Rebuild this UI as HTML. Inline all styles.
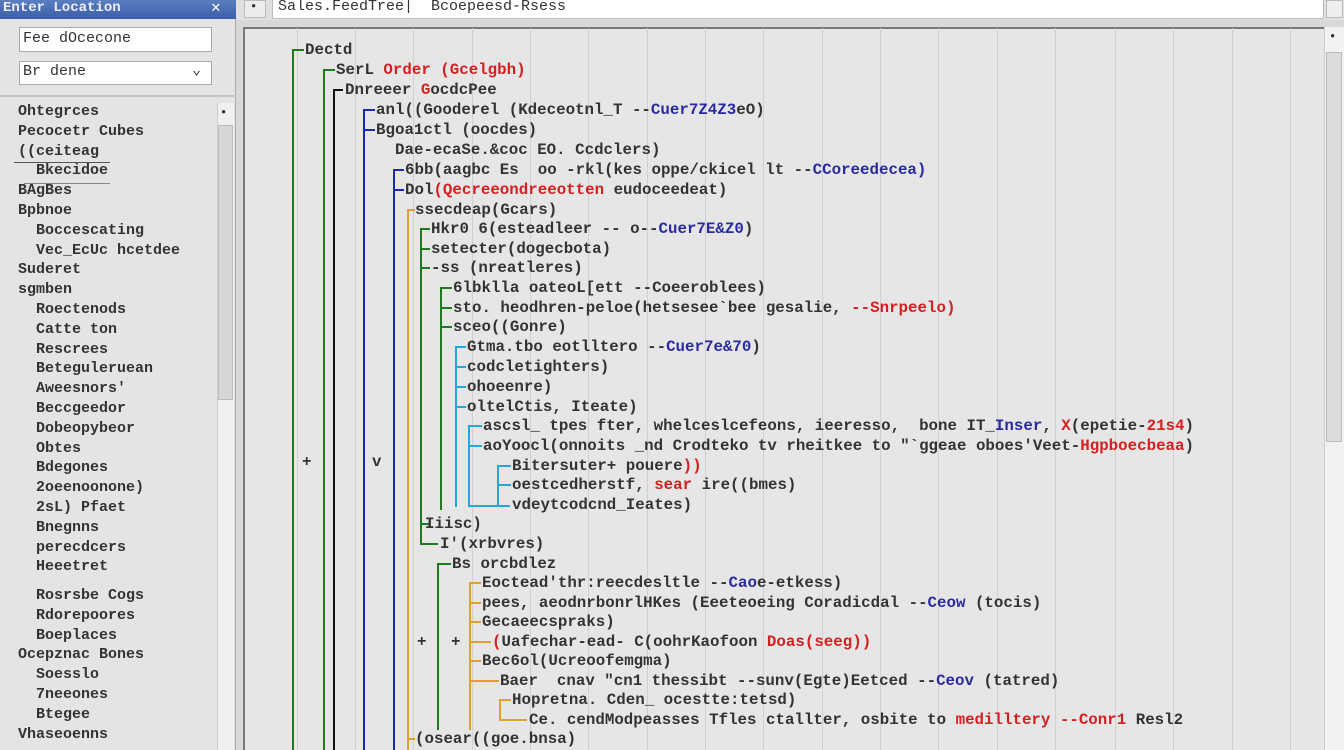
<!DOCTYPE html>
<html><head><meta charset="utf-8"><style>
*{margin:0;padding:0;box-sizing:border-box}
body{width:1344px;height:750px;overflow:hidden;background:#d8d8d8;position:relative;font-family:"Liberation Mono",monospace}
.a{position:absolute}
.t{position:absolute;font:bold 15.8px/18px "Liberation Mono",monospace;color:#333;white-space:pre}
.l{position:absolute;font:bold 15px/19.8px "Liberation Mono",monospace;color:#333;white-space:pre}
.r{color:#d42020}.b{color:#2a2aa0}
.v{position:absolute;width:2px}
.h{position:absolute;height:2px}
.g{background:#1f7a1f}.k{background:#111}.u{background:#1a2ab0}.o{background:#e0a030}.c{background:#20a8d8}
.gl{position:absolute;top:28px;height:722px;width:1px;background:#d0d0d0}
</style></head><body>
<!-- left panel -->
<div class="a" style="left:0;top:0;width:236px;height:750px;background:#e4e4e4;border-right:1px solid #aaa"></div>
<div class="a" style="left:0;top:0;width:236px;height:19px;background:linear-gradient(#5a7fc0,#3a5ea8)"></div>
<div class="l" style="left:3px;top:-1px;color:#eef;font-size:14px">Enter Location</div>
<div class="l" style="left:211px;top:-1px;color:#fff;font-size:16px">✕</div>
<div class="a" style="left:19px;top:27px;width:193px;height:25px;background:#fff;border:1px solid #aaa"></div>
<div class="l" style="left:23px;top:29px;font-weight:normal">Fee dOcecone</div>
<div class="a" style="left:19px;top:61px;width:193px;height:24px;background:#fff;border:1px solid #aaa"></div>
<div class="l" style="left:23px;top:62px;font-weight:normal">Br dene</div>
<div class="l" style="left:192px;top:61px;font-weight:normal">⌄</div>
<div class="a" style="left:0;top:95px;width:236px;height:2px;background:#c4c4c4"></div>
<div class="a" style="left:217px;top:103px;width:17px;height:647px;background:#f0f0f0;border-left:1px solid #ccc"></div>
<div class="a" style="left:218px;top:125px;width:15px;height:275px;background:#d6d6d6;border:1px solid #bbb"></div>
<div class="l" style="left:220px;top:104px;font-size:12px">•</div>
<div class="l" style="left:18px;top:102px">Ohtegrces
Pecocetr Cubes
((ceiteag
  Bkecidoe
BAgBes
Bpbnoe
  Boccescating
  Vec_EcUc hcetdee
Suderet
sgmben
  Roectenods
  Catte ton
  Rescrees
  Beteguleruean
  Aweesnors'
  Beccgeedor
  Dobeopybeor
  Obtes
  Bdegones
  2oeenoonone)
  2sL) Pfaet
  Bnegnns
  perecdcers
  Heeetret</div>
<div class="l" style="left:18px;top:586px">  Rosrsbe Cogs
  Rdorepoores
  Boeplaces
Ocepznac Bones
  Soesslo
  7neeones
  Btegee
Vhaseoenns</div>
<div class="a" style="left:14px;top:162px;width:96px;height:1px;background:#555"></div>
<div class="a" style="left:24px;top:183px;width:86px;height:1px;background:#888"></div>
<!-- top toolbar -->
<div class="a" style="left:236px;top:0;width:1108px;height:20px;background:#e0e0e0"></div>
<div class="a" style="left:244px;top:0;width:22px;height:18px;background:#ececec;border:1px solid #bbb"></div>
<div class="l" style="left:250px;top:-2px;font-size:12px">•</div>
<div class="a" style="left:272px;top:-1px;width:1052px;height:20px;background:#fff;border:1px solid #bbb"></div>
<div class="l" style="left:278px;top:-3px;font-weight:normal">Sales.FeedTree|  Bcoepeesd-Rsess</div>
<div class="a" style="left:1326px;top:0;width:17px;height:18px;background:#eee;border:1px solid #bbb"></div>
<!-- main panel -->
<div class="a" style="left:243px;top:27px;width:1082px;height:723px;background:#e6e6e6;border-top:2px solid #777;border-left:2px solid #777"></div>
<div class="gl" style="left:297px"></div><div class="gl" style="left:355px"></div><div class="gl" style="left:413px"></div><div class="gl" style="left:472px"></div><div class="gl" style="left:530px"></div><div class="gl" style="left:588px"></div><div class="gl" style="left:647px"></div><div class="gl" style="left:705px"></div><div class="gl" style="left:763px"></div><div class="gl" style="left:822px"></div><div class="gl" style="left:880px"></div><div class="gl" style="left:938px"></div><div class="gl" style="left:997px"></div><div class="gl" style="left:1055px"></div><div class="gl" style="left:1115px"></div><div class="gl" style="left:1173px"></div><div class="gl" style="left:1232px"></div><div class="gl" style="left:1290px"></div>
<!-- right scrollbar -->
<div class="a" style="left:1324px;top:27px;width:20px;height:723px;background:#f2f2f2;border-left:1px solid #ccc"></div>
<div class="a" style="left:1326px;top:52px;width:16px;height:390px;background:#dcdcdc;border:1px solid #bbb"></div>
<div class="l" style="left:1329px;top:28px;font-size:12px">•</div>
<!-- tree lines -->
<div class="v g" style="left:292px;top:50px;height:700px"></div><div class="h g" style="left:292px;top:49px;width:12px"></div>
<div class="v g" style="left:323px;top:70px;height:680px"></div><div class="h g" style="left:323px;top:69px;width:12px"></div>
<div class="v k" style="left:333px;top:90px;height:660px"></div><div class="h k" style="left:333px;top:89px;width:10px"></div>
<div class="v u" style="left:363px;top:110px;height:640px"></div><div class="h u" style="left:363px;top:109px;width:12px"></div><div class="h u" style="left:363px;top:129px;width:12px"></div>
<div class="v u" style="left:393px;top:170px;height:580px"></div><div class="h u" style="left:393px;top:169px;width:11px"></div><div class="h u" style="left:393px;top:189px;width:11px"></div>
<div class="v o" style="left:407px;top:210px;height:540px"></div><div class="h o" style="left:407px;top:209px;width:8px"></div><div class="h o" style="left:407px;top:738px;width:8px"></div>
<div class="v g" style="left:420px;top:229px;height:316px"></div><div class="h g" style="left:420px;top:228px;width:10px"></div><div class="h g" style="left:420px;top:248px;width:10px"></div><div class="h g" style="left:420px;top:267px;width:10px"></div><div class="h g" style="left:420px;top:523px;width:10px"></div><div class="h g" style="left:420px;top:543px;width:18px"></div>
<div class="v g" style="left:440px;top:288px;height:222px"></div><div class="h g" style="left:440px;top:287px;width:12px"></div><div class="h g" style="left:440px;top:307px;width:12px"></div><div class="h g" style="left:440px;top:326px;width:12px"></div>
<div class="v c" style="left:455px;top:347px;height:160px"></div><div class="h c" style="left:455px;top:346px;width:11px"></div><div class="h c" style="left:455px;top:366px;width:11px"></div><div class="h c" style="left:455px;top:386px;width:11px"></div><div class="h c" style="left:455px;top:406px;width:11px"></div>
<div class="v c" style="left:468px;top:426px;height:81px"></div><div class="h c" style="left:468px;top:425px;width:14px"></div><div class="h c" style="left:468px;top:445px;width:14px"></div><div class="h c" style="left:468px;top:505px;width:42px"></div>
<div class="v c" style="left:497px;top:466px;height:40px"></div><div class="h c" style="left:497px;top:465px;width:14px"></div><div class="h c" style="left:497px;top:484px;width:14px"></div>
<div class="v g" style="left:437px;top:564px;height:166px"></div><div class="h g" style="left:437px;top:563px;width:14px"></div>
<div class="v o" style="left:469px;top:583px;height:147px"></div><div class="h o" style="left:469px;top:582px;width:12px"></div><div class="h o" style="left:469px;top:602px;width:12px"></div><div class="h o" style="left:469px;top:621px;width:12px"></div><div class="h o" style="left:469px;top:641px;width:22px"></div><div class="h o" style="left:469px;top:660px;width:12px"></div><div class="h o" style="left:469px;top:680px;width:30px"></div>
<div class="v o" style="left:499px;top:700px;height:21px"></div><div class="h o" style="left:499px;top:699px;width:12px"></div><div class="h o" style="left:499px;top:719px;width:28px"></div>
<div class="t" style="left:302px;top:453px">+</div><div class="t" style="left:372px;top:453px">v</div>
<div class="t" style="left:417px;top:633px">+</div><div class="t" style="left:451px;top:633px">+</div>
<!-- text rows -->
<div class="t" style="left:305px;top:41px">Dectd</div>
<div class="t" style="left:336px;top:61px">SerL <span class="r">Order (Gcelgbh)</span></div>
<div class="t" style="left:345px;top:81px">Dnreeer <span class="r">G</span>ocdcPee</div>
<div class="t" style="left:376px;top:101px">anl((Gooderel (Kdeceotnl_T --<span class="b">Cuer7Z4Z3</span>eO)</div>
<div class="t" style="left:376px;top:121px">Bgoa1ctl (oocdes)</div>
<div class="t" style="left:395px;top:141px">Dae-ecaSe.&amp;coc EO. Ccdclers)</div>
<div class="t" style="left:405px;top:161px">6bb(aagbc Es  oo -rkl(kes oppe/ckicel lt --<span class="b">CCoreedecea)</span></div>
<div class="t" style="left:405px;top:181px">Dol<span class="r">(Qecreeondreeotten</span> eudoceedeat)</div>
<div class="t" style="left:415px;top:201px">ssecdeap(Gcars)</div>
<div class="t" style="left:431px;top:220px">Hkr0 6(esteadleer -- o--<span class="b">Cuer7E&amp;Z0</span>)</div>
<div class="t" style="left:431px;top:240px">setecter(dogecbota)</div>
<div class="t" style="left:431px;top:259px">-ss (nreatleres)</div>
<div class="t" style="left:453px;top:279px">6lbklla oateoL[ett --Coeeroblees)</div>
<div class="t" style="left:453px;top:299px">sto. heodhren-peloe(hetsesee`bee gesalie, <span class="r">--Snrpeelo)</span></div>
<div class="t" style="left:453px;top:318px">sceo((Gonre)</div>
<div class="t" style="left:467px;top:338px">Gtma.tbo eotlltero --<span class="b">Cuer7e&amp;70</span>)</div>
<div class="t" style="left:467px;top:358px">codcletighters)</div>
<div class="t" style="left:467px;top:378px">ohoeenre)</div>
<div class="t" style="left:467px;top:398px">oltelCtis, Iteate)</div>
<div class="t" style="left:483px;top:417px">ascsl_ tpes fter, whelceslcefeons, ieeresso,  bone IT_<span class="b">Inser</span>, <span class="r">X</span>(epetie-<span class="r">21s4</span>)</div>
<div class="t" style="left:483px;top:437px">aoYoocl(onnoits _nd Crodteko tv rheitkee to "`ggeae oboes'Veet-<span class="r">Hgpboecbeaa</span>)</div>
<div class="t" style="left:512px;top:457px">Bitersuter+ pouere<span class="r">))</span></div>
<div class="t" style="left:512px;top:476px">oestcedherstf, <span class="r">sear</span> ire((bmes)</div>
<div class="t" style="left:512px;top:496px">vdeytcodcnd_Ieates)</div>
<div class="t" style="left:425px;top:515px">Iiisc)</div>
<div class="t" style="left:440px;top:535px">I'(xrbvres)</div>
<div class="t" style="left:452px;top:555px">Bs orcbdlez</div>
<div class="t" style="left:482px;top:574px">Eoctead'thr:reecdesltle --<span class="b">Cao</span>e-etkess)</div>
<div class="t" style="left:482px;top:594px">pees, aeodnrbonrlHKes (Eeeteoeing Coradicdal --<span class="b">Ceow</span> (tocis)</div>
<div class="t" style="left:482px;top:613px">Gecaeecspraks)</div>
<div class="t" style="left:492px;top:633px"><span class="r">(</span>Uafechar-ead- C(oohrKaofoon <span class="r">Doas(seeg))</span></div>
<div class="t" style="left:482px;top:652px">Bec6ol(Ucreoofemgma)</div>
<div class="t" style="left:500px;top:672px">Baer  cnav "cn1 thessibt --sunv(Egte)Eetced --<span class="b">Ceov</span> (tatred)</div>
<div class="t" style="left:512px;top:691px">Hopretna. Cden_ ocestte:tetsd)</div>
<div class="t" style="left:529px;top:711px">Ce. cendModpeasses Tfles ctallter, osbite to <span class="r">medilltery --Conr1</span> Resl2</div>
<div class="t" style="left:415px;top:730px">(osear((goe.bnsa)</div>
</body></html>
